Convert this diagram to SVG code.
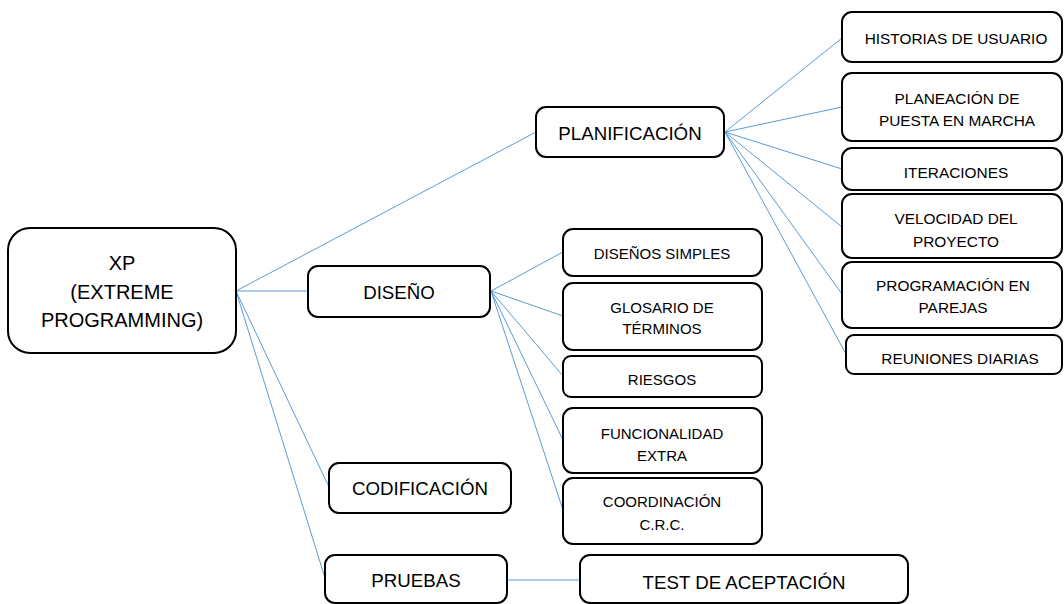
<svg xmlns="http://www.w3.org/2000/svg" width="1064" height="604" viewBox="0 0 1064 604">
<style>
.box{fill:#fff;stroke:#000;stroke-width:2}
.t{font-family:"Liberation Sans",Arial,sans-serif;fill:#000;text-anchor:middle}
.t19{font-size:20px}
.t18{font-size:18.7px}
.t145{font-size:15.4px}
.t14{font-size:15px}
.c line{stroke:#5B9BD5;stroke-width:1;fill:none}
</style>
<rect width="1064" height="604" fill="#fff"/>
<g id="connectors" class="c">
<line x1="236" y1="291" x2="536" y2="132"/>
<line x1="236" y1="291" x2="308" y2="291"/>
<line x1="236" y1="291" x2="329" y2="487"/>
<line x1="236" y1="291" x2="325" y2="578"/>
<line x1="725" y1="132" x2="842" y2="38"/>
<line x1="725" y1="132" x2="842" y2="107"/>
<line x1="725" y1="132" x2="842" y2="169"/>
<line x1="725" y1="132" x2="842" y2="227"/>
<line x1="725" y1="132" x2="842" y2="294"/>
<line x1="725" y1="132" x2="846" y2="354"/>
<line x1="491" y1="291" x2="563" y2="252"/>
<line x1="491" y1="291" x2="563" y2="316"/>
<line x1="491" y1="291" x2="563" y2="376"/>
<line x1="491" y1="291" x2="563" y2="440"/>
<line x1="491" y1="291" x2="563" y2="510"/>
<line x1="507" y1="580" x2="580" y2="580"/>
</g>
<g id="xp">
<rect class="box" x="8" y="228" width="228" height="125" rx="22"/>
<text class="t t19" x="122" y="270">XP</text>
<text class="t t19" x="122" y="299">(EXTREME</text>
<text class="t t19" x="122" y="327">PROGRAMMING)</text>
</g>
<g id="planificacion">
<rect class="box" x="536" y="107" width="188" height="50" rx="10"/>
<text class="t t18" x="630" y="140">PLANIFICACIÓN</text>
</g>
<g id="diseno">
<rect class="box" x="308" y="266" width="182" height="51" rx="10"/>
<text class="t t18" x="399" y="299">DISEÑO</text>
</g>
<g id="codificacion">
<rect class="box" x="329" y="463" width="182" height="50" rx="10"/>
<text class="t t18" x="420" y="495">CODIFICACIÓN</text>
</g>
<g id="pruebas">
<rect class="box" x="325" y="555" width="182" height="48" rx="10"/>
<text class="t t18" x="416" y="587">PRUEBAS</text>
</g>
<g id="test">
<rect class="box" x="580" y="555" width="328" height="48" rx="10"/>
<text class="t t18" x="744" y="589">TEST DE ACEPTACIÓN</text>
</g>
<g id="historias">
<rect class="box" x="842" y="12" width="220" height="50" rx="10"/>
<text class="t t145" x="956" y="43.5">HISTORIAS DE USUARIO</text>
</g>
<g id="planeacion">
<rect class="box" x="842" y="73" width="220" height="68" rx="10"/>
<text class="t t145" x="957" y="103.5">PLANEACIÓN DE</text>
<text class="t t145" x="957" y="125.5">PUESTA EN MARCHA</text>
</g>
<g id="iteraciones">
<rect class="box" x="842" y="148" width="220" height="42" rx="10"/>
<text class="t t145" x="956" y="177.5">ITERACIONES</text>
</g>
<g id="velocidad">
<rect class="box" x="842" y="194" width="220" height="64" rx="10"/>
<text class="t t145" x="956" y="223.5">VELOCIDAD DEL</text>
<text class="t t145" x="956" y="246.5">PROYECTO</text>
</g>
<g id="programacion">
<rect class="box" x="842" y="262" width="220" height="66" rx="10"/>
<text class="t t145" x="953" y="290.5">PROGRAMACIÓN EN</text>
<text class="t t145" x="953" y="312.5">PAREJAS</text>
</g>
<g id="reuniones">
<rect class="box" x="846" y="335" width="216" height="39" rx="8"/>
<text class="t t145" x="960" y="363.5">REUNIONES DIARIAS</text>
</g>
<g id="disenos-simples">
<rect class="box" x="563" y="229" width="199" height="47" rx="10"/>
<text class="t t14" x="662" y="258.5">DISEÑOS SIMPLES</text>
</g>
<g id="glosario">
<rect class="box" x="563" y="283" width="199" height="67" rx="10"/>
<text class="t t14" x="662" y="312.5">GLOSARIO DE</text>
<text class="t t14" x="662" y="333.5">TÉRMINOS</text>
</g>
<g id="riesgos">
<rect class="box" x="563" y="356" width="199" height="41" rx="8"/>
<text class="t t14" x="662" y="384.5">RIESGOS</text>
</g>
<g id="funcionalidad">
<rect class="box" x="563" y="408" width="199" height="65" rx="10"/>
<text class="t t14" x="662" y="438.5">FUNCIONALIDAD</text>
<text class="t t14" x="662" y="460.5">EXTRA</text>
</g>
<g id="coordinacion">
<rect class="box" x="563" y="478" width="199" height="66" rx="10"/>
<text class="t t14" x="662" y="506.5">COORDINACIÓN</text>
<text class="t t14" x="662" y="529.5">C.R.C.</text>
</g>
</svg>
